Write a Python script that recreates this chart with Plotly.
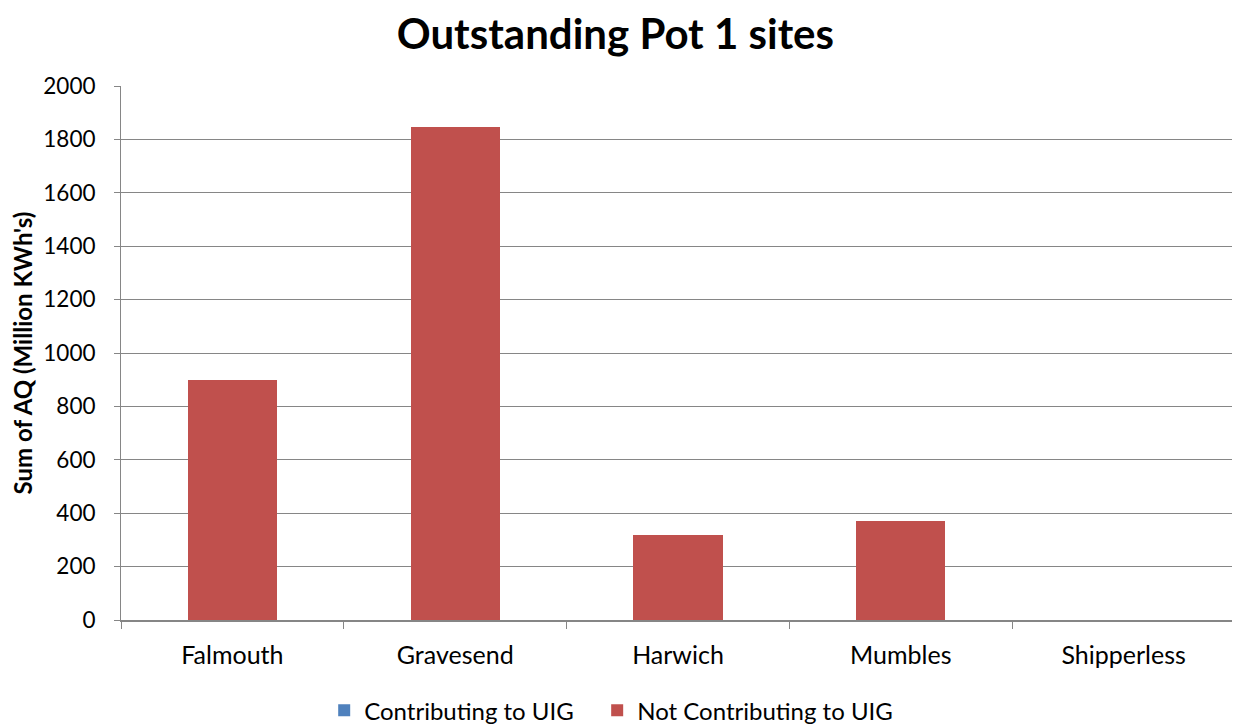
import plotly.graph_objects as go

categories = ["Falmouth", "Gravesend", "Harwich", "Mumbles", "Shipperless"]
contributing = [0, 0, 0, 0, 0]
not_contributing = [898, 1846, 318, 370, 0]
y_ticks = list(range(0, 2001, 200))

FONT = "Lato"
grid = "#868686"
NBSP = "\u00a0"

fig = go.Figure()
fig.add_trace(go.Bar(name="Contributing to UIG" + NBSP * 3, x=categories, y=contributing,
                     marker=dict(color="#4F81BD", line=dict(width=0))))
fig.add_trace(go.Bar(name="Not Contributing to UIG", x=categories, y=not_contributing,
                     marker=dict(color="#C0504D", line=dict(width=0))))

# page body has an 8px margin, so the figure is sized / offset to compensate
fig.update_layout(
    barmode="stack",
    bargap=0.6,
    width=1232, height=720,
    paper_bgcolor="white", plot_bgcolor="white",
    margin=dict(l=113, r=5, t=78, b=108, autoexpand=False),
    font=dict(family=FONT, color="black", size=22),
    title=dict(text="<b>Outstanding Pot 1 sites</b>", x=0.493, xanchor="center",
               y=0.964, yanchor="middle", font=dict(size=42, family=FONT)),
    legend=dict(orientation="h", x=0.1824, xanchor="left",
                yref="container", y=0.024, yanchor="middle",
                font=dict(size=24, family=FONT), itemwidth=30, traceorder="normal"),
    showlegend=True,
)
fig.update_xaxes(
    automargin=False,
    showline=True, linecolor=grid, linewidth=2,
    ticks="outside", tickson="boundaries", ticklen=7, tickcolor=grid, tickwidth=1,
    tickfont=dict(size=25), showgrid=False, ticklabelstandoff=12,
)
fig.update_yaxes(
    automargin=False,
    range=[0, 2000], tickvals=y_ticks, showline=True, linecolor=grid, linewidth=1,
    ticks="outside", ticklen=6, tickcolor=grid, gridcolor=grid, gridwidth=1,
    tickfont=dict(size=22.5), zeroline=False, ticklabelstandoff=14,
    title=dict(text="<b>Sum of AQ (Million KWh's)</b>", font=dict(size=24), standoff=19),
)

fig.write_html("out.html")
